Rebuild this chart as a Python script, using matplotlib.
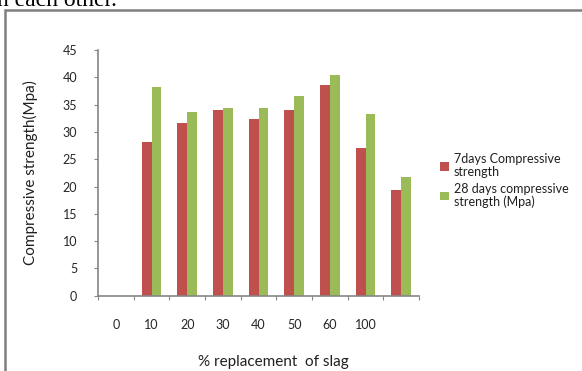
import matplotlib
matplotlib.use("Agg")
import matplotlib.pyplot as plt
import numpy as np
from matplotlib.patches import Rectangle

### data
categories = ["0", "10", "20", "30", "40", "50", "60", "100", ""]
days7 = [0, 28.1, 31.6, 34.0, 32.3, 34.0, 38.6, 27.0, 19.3]
days28 = [0, 38.3, 33.7, 34.3, 34.4, 36.5, 40.5, 33.2, 21.8]
series_names = ["7days Compressive\nstrength", "28 days compressive\nstrength (Mpa)"]

plt.rcParams['font.family'] = ['Lato', 'DejaVu Sans']

W, H = 582, 371
fig = plt.figure(figsize=(W / 100, H / 100), dpi=100)
ax = fig.add_axes([98 / W, 1 - 295.7 / H, 321 / W, 245.7 / H])

red = "#C0504D"
green = "#9BBB59"
axcol = "#868686"

### the data starts one slot to the right of the labels
x = np.arange(len(categories)) + 0.5
bw = 0.28
ax.bar(x - bw / 2, days7, bw, color=red, label=series_names[0])
ax.bar(x + bw / 2, days28, bw, color=green, label=series_names[1])

ax.set_xlim(0, len(categories))
ax.set_ylim(0, 45)
ax.set_yticks(np.arange(0, 46, 5))

### boundaries get the tick marks, labels sit at the slot centres
ax.set_xticks(np.arange(len(categories) + 1))
ax.set_xticklabels([])
ax.set_xticks(x, minor=True)
ax.set_xticklabels(categories, minor=True)
ax.tick_params(axis="x", which="major", length=3, direction="out", color=axcol)
ax.tick_params(axis="x", which="minor", length=0, pad=17, labelsize=9, labelcolor="#262626")
ax.tick_params(axis="y", length=3, direction="out", color=axcol, pad=12, labelsize=9, labelcolor="#262626")

for s in ["top", "right"]:
    ax.spines[s].set_visible(False)
for s in ["left", "bottom"]:
    ax.spines[s].set_color(axcol)
    ax.spines[s].set_linewidth(1.2)

ax.set_ylabel("Compressive strength(Mpa)", fontsize=11, color="#202020")
ax.yaxis.set_label_coords((38 - 98) / 321, 0.5)
ax.set_xlabel("% replacement  of slag", fontsize=11, color="#202020")
ax.xaxis.set_label_coords((273 - 98) / 321, (295.7 - 355) / 245.7)

leg = fig.legend(loc="upper left", bbox_to_anchor=(434 / W, 1 - 147 / H), frameon=False,
                 fontsize=9, handlelength=0.7, handleheight=0.7, handletextpad=0.4,
                 labelspacing=0.35, borderpad=0)
for t in leg.get_texts():
    t.set_color("#202020")
    t.set_linespacing(1.1)

### document frame and the cut off text above it
fig.add_artist(Rectangle((5 / W, -0.1), 1.2, 1 - 10 / H + 0.1, transform=fig.transFigure,
                         fill=False, edgecolor="#7f7f7f", linewidth=1.8))
fig.text(-3 / W, 1 - 6 / H, "n each other.", family="Liberation Serif", fontsize=17,
         va="baseline", ha="left")

fig.savefig("out.png", dpi=100)
